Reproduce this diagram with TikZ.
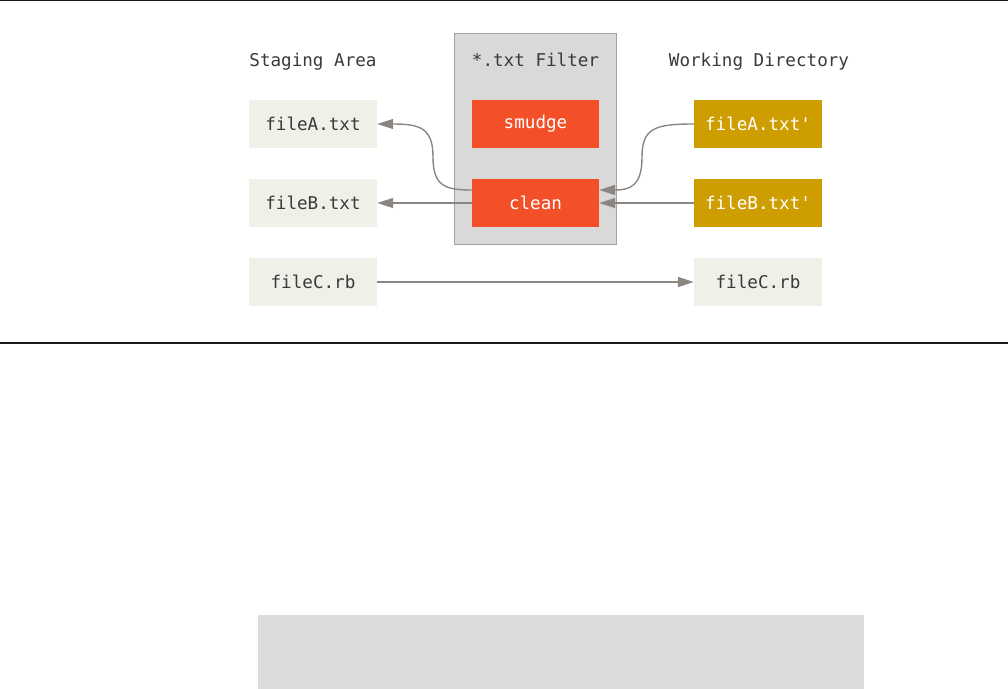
\documentclass[tikz,border=0pt]{standalone}
\usepackage{fontspec}
\setmonofont{DejaVu Sans Mono}
\usetikzlibrary{arrows.meta}
\definecolor{beige}{HTML}{F0EFE8}
\definecolor{gitorange}{HTML}{F34F29}
\definecolor{gold}{HTML}{CE9E00}
\definecolor{arrowgrey}{HTML}{8C8680}
\definecolor{txtgrey}{HTML}{3A3A3A}
\definecolor{filtergrey}{HTML}{D9D9D9}
\definecolor{filterborder}{HTML}{A3A3A3}
\definecolor{bottomgrey}{HTML}{DCDCDC}
\tikzset{
  filebox/.style={minimum width=128pt, minimum height=48pt, inner sep=0pt,
    font=\ttfamily\fontsize{17.6}{20}\selectfont},
  stagebox/.style={filebox, fill=beige, text=txtgrey},
  workbox/.style={filebox, fill=gold, text=white},
  filterbox/.style={filebox, minimum width=127pt, fill=gitorange, text=white},
  heading/.style={anchor=base, font=\ttfamily\fontsize{17.6}{20}\selectfont, text=txtgrey, inner sep=0pt},
  arr/.style={draw=arrowgrey, line width=1.4pt, -{Triangle[length=16pt,width=10pt]}},
  rule/.style={line width=1.3pt, draw=black!90}
}
\begin{document}
\begin{tikzpicture}[x=1pt,y=-1pt]
\useasboundingbox (0,0) rectangle (1008,688);
\coordinate (tl) at (0,0.7);
\coordinate (tr) at (1008,0.7);
\draw[rule] (tl) -- (tr);
\coordinate (ml) at (0,343);
\coordinate (mr) at (1008,343);
\draw[rule] (ml) -- (mr);
\node[fill=bottomgrey, minimum width=606pt, minimum height=76pt, inner sep=0pt, anchor=north west] (bottombox) at (258,615) {};
\node[fill=filtergrey, draw=filterborder, line width=1.8pt, minimum width=162pt, minimum height=211pt, inner sep=0pt] (filter) at (535.5,139) {};
\node[heading] (hstage) at (313,66) {Staging Area};
\node[heading] (hfilter) at (535.5,66) {*.txt Filter};
\node[heading] (hwork) at (759,66) {Working Directory};
\node[stagebox] (fileA) at (313,124) {fileA.txt};
\node[stagebox] (fileB) at (313,203) {fileB.txt};
\node[stagebox] (fileC) at (313,282) {fileC.rb};
\node[filterbox] (smudge) at (535.5,124) {smudge};
\node[filterbox] (clean) at (535.5,203) {clean};
\node[workbox] (fileAp) at (758,124) {fileA.txt'};
\node[workbox] (fileBp) at (758,203) {fileB.txt'};
\node[stagebox] (fileCp) at (758,282) {fileC.rb};
\draw[arr] (fileBp.west) -- (clean.east);
\draw[arr] (clean.west) -- (fileB.east);
\draw[arr] (fileC.east) -- (fileCp.west);
\draw[arr] (fileAp.west) .. controls (655,124) and (642,128) .. (642,157) .. controls (642,186) and (630,190) .. ([yshift=13pt]clean.east);
\draw[arr] ([yshift=13pt]clean.west) .. controls (445,190) and (433,186) .. (433,157) .. controls (433,128) and (420,124) .. (fileA.east);
\end{tikzpicture}
\end{document}
